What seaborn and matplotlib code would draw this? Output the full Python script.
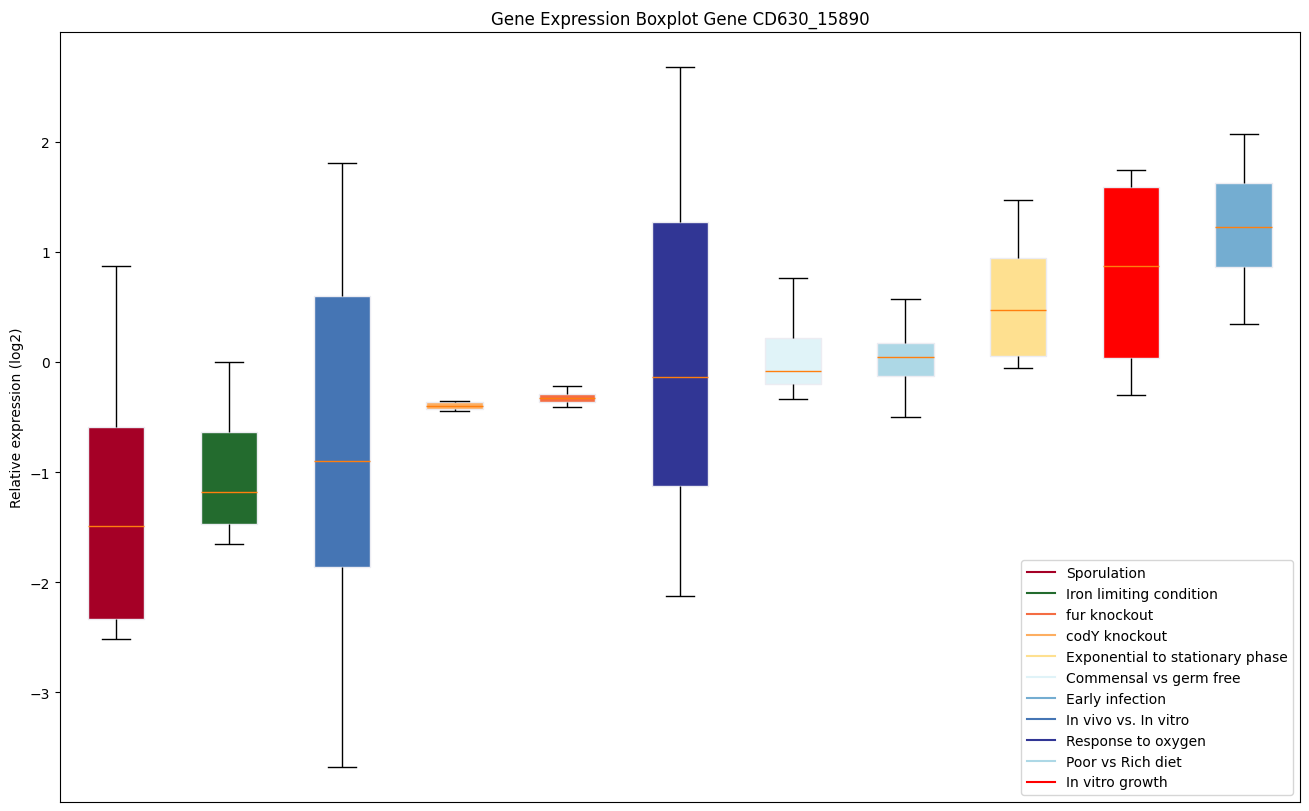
import matplotlib
matplotlib.use("Agg")
import matplotlib.pyplot as plt
from matplotlib.lines import Line2D
import seaborn as sns
import pandas as pd
import numpy as np

# legend order
conditions = [
    "Sporulation",
    "Iron limiting condition",
    "fur knockout",
    "codY knockout",
    "Exponential to stationary phase",
    "Commensal vs germ free",
    "Early infection",
    "In vivo vs. In vitro",
    "Response to oxygen",
    "Poor vs Rich diet",
    "In vitro growth",
]

colors = [
    "#a50026",
    "#236b2e",
    "#f46d43",
    "#fdae61",
    "#fee090",
    "#e0f3f8",
    "#74add1",
    "#4575b4",
    "#313695",
    "#add8e6",
    "#ff0000",
]

# log2 expression values per condition
sporulation = [-2.52, -2.34, -1.49, -0.59, 0.87]
iron_limiting = [-1.65, -1.47, -1.18, -0.64, 0.00]
fur_knockout = [-0.41, -0.36, -0.33, -0.29, -0.215]
cody_knockout = [-0.443, -0.424, -0.397, -0.366, -0.355]
exponential_stationary = [-0.055, 0.055, 0.47, 0.94, 1.47]
commensal_germ_free = [-0.34, -0.20, -0.08, 0.22, 0.76]
early_infection = [0.345, 0.86, 1.23, 1.63, 2.07]
in_vivo_in_vitro = [-3.68, -1.86, -0.90, 0.60, 1.81]
response_oxygen = [-2.13, -1.13, -0.14, 1.27, 2.68]
poor_rich_diet = [-0.50, -0.13, 0.045, 0.17, 0.57]
in_vitro_growth = [-0.30, 0.036, 0.87, 1.59, 1.745]

values = [
    sporulation,
    iron_limiting,
    fur_knockout,
    cody_knockout,
    exponential_stationary,
    commensal_germ_free,
    early_infection,
    in_vivo_in_vitro,
    response_oxygen,
    poor_rich_diet,
    in_vitro_growth,
]

rows = []
for cond, vals in zip(conditions, values):
    for v in vals:
        rows.append({"condition": cond, "value": v})
df = pd.DataFrame(rows)

# boxes sorted by median
order = df.groupby("condition")["value"].median().sort_values().index.tolist()
palette = dict(zip(conditions, colors))

fig, ax = plt.subplots(figsize=(13.09, 8.12), dpi=100)
fig.subplots_adjust(left=0.0458, right=0.9931, top=0.9594, bottom=0.0111)

sns.boxplot(
    data=df,
    x="condition",
    y="value",
    hue="condition",
    order=order,
    hue_order=order,
    palette=palette,
    saturation=1,
    width=0.5,
    dodge=False,
    legend=False,
    whis=1.5,
    linewidth=1,
    boxprops=dict(edgecolor="#ececf2", linewidth=1),
    whiskerprops=dict(color="black", linewidth=1),
    capprops=dict(color="black", linewidth=1),
    medianprops=dict(color="#ff7f0e", linewidth=1),
    ax=ax,
)

ax.set_xticks([])
ax.set_xlabel("")
ax.set_ylabel("Relative expression (log2)")
ax.set_title("Gene Expression Boxplot Gene CD630_15890")
ax.set_xlim(-0.5, len(order) - 0.5)

handles = [Line2D([0], [0], color=c, lw=1.5) for c in colors]
ax.legend(handles, conditions, loc="lower right")

plt.savefig("out.png", dpi=100)
plt.close()
